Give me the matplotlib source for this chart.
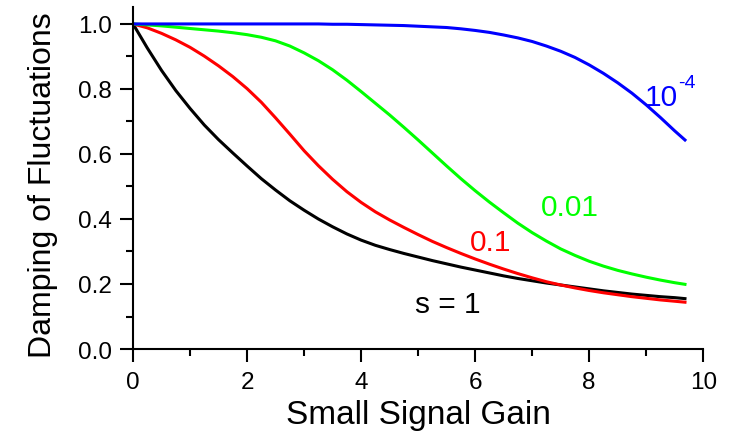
import matplotlib
matplotlib.use("Agg")
import matplotlib.pyplot as plt
from matplotlib.ticker import MultipleLocator

plt.rcParams["font.family"] = ["Liberation Sans", "DejaVu Sans"]

gain = [0, 0.25, 0.5, 0.75, 1.0, 1.25, 1.5, 1.75, 2.0, 2.25,
        2.5, 2.75, 3.0, 3.25, 3.5, 3.75, 4.0, 4.25, 4.5, 4.75,
        5.0, 5.25, 5.5, 5.75, 6.0, 6.25, 6.5, 6.75, 7.0, 7.25,
        7.5, 7.75, 8.0, 8.25, 8.5, 8.75, 9.0, 9.25, 9.5, 9.68]

s_1 = [1.0, 0.926, 0.857, 0.795, 0.740, 0.689, 0.644, 0.603, 0.563, 0.524,
       0.489, 0.456, 0.427, 0.400, 0.376, 0.354, 0.335, 0.319, 0.306, 0.294,
       0.283, 0.272, 0.262, 0.252, 0.243, 0.234, 0.225, 0.217, 0.210, 0.203,
       0.197, 0.191, 0.185, 0.179, 0.174, 0.169, 0.165, 0.161, 0.158, 0.155]
s_01 = [1.0, 0.988, 0.971, 0.951, 0.928, 0.901, 0.871, 0.838, 0.801, 0.759,
        0.711, 0.661, 0.610, 0.564, 0.522, 0.484, 0.451, 0.422, 0.397, 0.374,
        0.352, 0.331, 0.312, 0.294, 0.277, 0.261, 0.246, 0.232, 0.219, 0.207,
        0.197, 0.188, 0.180, 0.173, 0.167, 0.161, 0.156, 0.151, 0.147, 0.144]
s_001 = [1.0, 0.997, 0.994, 0.990, 0.986, 0.982, 0.978, 0.973, 0.967, 0.959,
         0.948, 0.932, 0.911, 0.887, 0.859, 0.827, 0.792, 0.756, 0.720, 0.682,
         0.643, 0.603, 0.563, 0.524, 0.487, 0.452, 0.419, 0.387, 0.358, 0.332,
         0.308, 0.288, 0.270, 0.255, 0.242, 0.231, 0.221, 0.212, 0.204, 0.199]
s_1e4 = [1.0, 1.0, 1.0, 1.0, 1.0, 1.0, 1.0, 1.0, 1.0, 1.0,
         1.0, 1.0, 1.0, 1.0, 0.999, 0.999, 0.998, 0.997, 0.996, 0.995,
         0.993, 0.991, 0.989, 0.985, 0.980, 0.974, 0.966, 0.957, 0.946, 0.932,
         0.916, 0.897, 0.874, 0.848, 0.819, 0.787, 0.751, 0.712, 0.671, 0.643]

fig = plt.figure(figsize=(7.31, 4.39), dpi=100)
ax = fig.add_axes([0.182, 0.2027, 0.780, 0.779])

lw = 2.2
ax.plot(gain, s_1, color="black", lw=lw)
ax.plot(gain, s_01, color="#ff0000", lw=lw)
ax.plot(gain, s_001, color="#00ff00", lw=lw)
ax.plot(gain, s_1e4, color="#0000ff", lw=lw)

ax.text(4.95, 0.138, "s = 1", color="black", fontsize=21.5, va="center")
ax.text(5.91, 0.33, "0.1", color="#ff0000", fontsize=21.5, va="center")
ax.text(7.16, 0.437, "0.01", color="#00ff00", fontsize=21.5, va="center")
ax.text(8.98, 0.751, "10", color="#0000ff", fontsize=21.5, va="baseline")
ax.text(9.56, 0.806, "-4", color="#0000ff", fontsize=14, va="baseline")

ax.set_xlim(0, 10)
ax.set_ylim(0, 1.052)
ax.xaxis.set_major_locator(MultipleLocator(2))
ax.xaxis.set_minor_locator(MultipleLocator(1))
ax.yaxis.set_major_locator(MultipleLocator(0.2))
ax.yaxis.set_minor_locator(MultipleLocator(0.1))
ax.yaxis.set_major_formatter(lambda v, p: f"{v:.1f}")

ax.spines["top"].set_visible(False)
ax.spines["right"].set_visible(False)
for side in ("left", "bottom"):
    ax.spines[side].set_linewidth(1.5)
ax.tick_params(which="major", direction="out", length=9.5, width=1.5,
               labelsize=17.5, pad=6)
ax.tick_params(which="minor", direction="out", length=5, width=1.5)

ax.set_xlabel("Small Signal Gain", fontsize=24, labelpad=5)
ax.set_ylabel("Damping of Fluctuations", fontsize=23, labelpad=14)
ax.yaxis.label.set_y(0.482)

fig.savefig("out.png", dpi=100)
